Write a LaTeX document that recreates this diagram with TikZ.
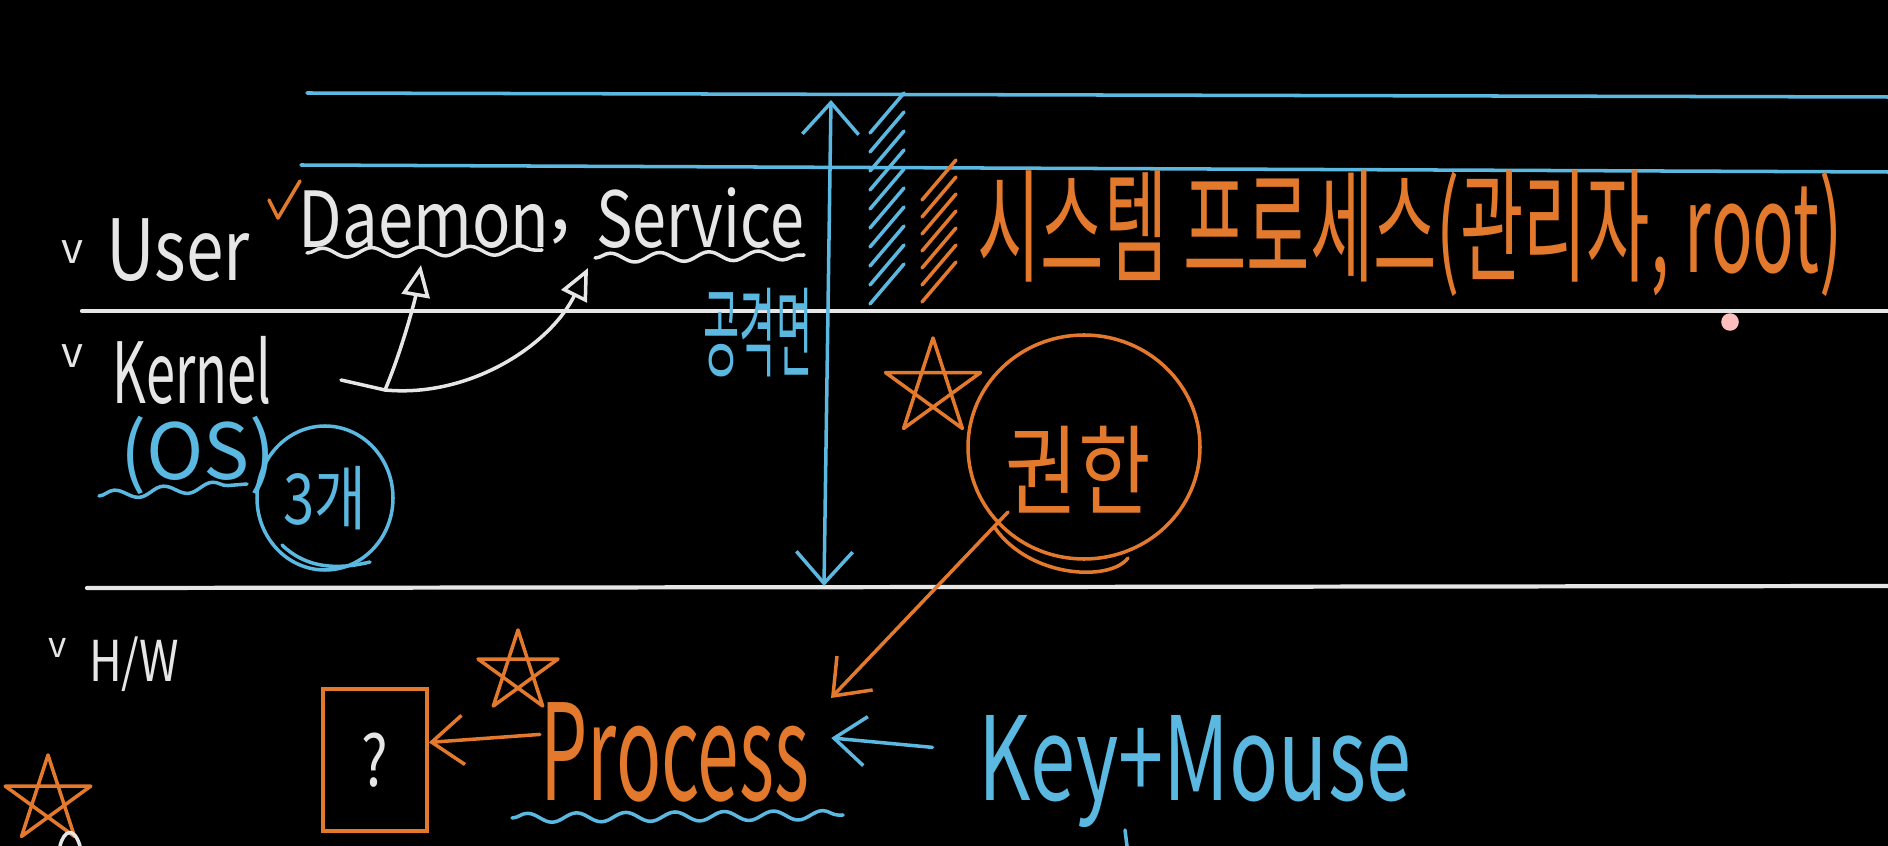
\documentclass[tikz,border=0pt]{standalone}
\usepackage{fontspec}
\setmainfont{Noto Sans CJK KR}
\usetikzlibrary{arrows.meta,decorations.pathmorphing}
\definecolor{chalkblue}{HTML}{5BB8E0}
\definecolor{chalkorange}{HTML}{E2792C}
\definecolor{chalkwhite}{HTML}{E6E6E6}
\newcommand{\hand}[3]{\scalebox{#2}[1]{\fontsize{#1}{#1}\selectfont #3}}
\newcommand{\pentastar}[3]{\draw[#1] (#2) +(-90:#3) -- +(54:#3) -- +(198:#3) -- +(342:#3) -- +(126:#3) -- cycle;}
\tikzset{
  wpen/.style={draw=chalkwhite,line width=1pt,line cap=round,line join=round},
  bpen/.style={draw=chalkblue,line width=1pt,line cap=round,line join=round},
  open/.style={draw=chalkorange,line width=1pt,line cap=round,line join=round},
  barb/.style={-{Straight Barb[length=9pt,width=14pt]}},
  wavy/.style={decorate,decoration={snake,amplitude=1.3pt,segment length=14pt}},
}
\begin{document}
\begin{tikzpicture}[x=0.01cm,y=-0.01cm,every node/.style={inner sep=0pt}]
\fill[black] (0,0) rectangle (1888,846);
\useasboundingbox (0,0) rectangle (1888,846);
% layer lines
\draw[bpen] (307,93) -- (1888,97);
\draw[bpen] (301,165) -- (1888,172);
\draw[wpen,line width=1.2pt] (82,311) -- (1888,311);
\draw[wpen,line width=1.2pt] (87,588) -- (1888,586);
% user / kernel / hw
\node[text=chalkwhite] (tick1) at (72,252) {\hand{12}{1}{v}};
\node[text=chalkwhite] (user) at (178,250) {\hand{24}{0.8}{User}};
\draw[open] (269,200) -- (278,218) -- (300,181);
\node[text=chalkwhite] (daemon) at (424,220) {\hand{22}{0.82}{Daemon}};
\node[text=chalkwhite] (comma) at (560,232) {\hand{22}{1}{,}};
\node[text=chalkwhite] (service) at (700,218) {\hand{22}{0.79}{Service}};
\draw[wpen,wavy] (307,253) -- (542,250);
\draw[wpen,wavy] (595,258) -- (804,255);
\node[text=chalkblue] (attack) at (758,333) {\hand{28}{0.4}{공격면}};
\node[text=chalkwhite] (tick2) at (72,356) {\hand{12}{1}{v}};
\node[text=chalkwhite] (kernel) at (192,370) {\hand{24}{0.62}{Kernel}};
\coordinate (kstart) at (341,380);
\coordinate (kjoin) at (385,390);
\coordinate (dtip) at (421,265);
\coordinate (stip) at (588,268);
\draw[wpen,-{Triangle[open,length=9pt,width=8pt]}] (kstart) -- (kjoin) .. controls (402,350) and (415,300) .. (dtip);
\draw[wpen,-{Triangle[open,length=9pt,width=8pt]}] (kjoin) .. controls (470,398) and (550,345) .. (stip);
\node[text=chalkblue] (os) at (198,455) {\hand{22}{1}{(OS)}};
\draw[bpen,wavy] (99,496) -- (247,484);
\node[text=chalkblue] (cnt) at (325,498) {\hand{20}{0.8}{3개}};
\draw[bpen] (cnt) ellipse [x radius=68, y radius=72];
\draw[bpen] (282,545) .. controls (310,572) and (345,568) .. (370,562);
\node[text=chalkwhite] (tick3) at (58,648) {\hand{10}{1}{v}};
\node[text=chalkwhite] (hw) at (134,664) {\hand{16}{0.8}{H/W}};
% user-kernel boundary arrow and hatching
\coordinate (vtop) at (831,100);
\coordinate (vbot) at (824,586);
\draw[bpen,{Straight Barb[length=9pt,width=16pt]}-{Straight Barb[length=9pt,width=16pt]}] (vtop) -- (vbot);
\foreach \k in {0,...,9}
  \draw[bpen] (870,{133+\k*19}) -- ++(34,-40);
\foreach \k in {0,...,6}
  \draw[open] (922,{200+\k*17}) -- ++(34,-40);
\node[text=chalkorange] (syspro) at (1410,234) {\hand{35}{0.56}{시스템 프로세스(관리자, root)}};
\fill[pink] (1730,322) circle (2.5pt);
% privilege
\coordinate (star1) at (933,388);
\pentastar{open}{star1}{50}
\node[text=chalkorange] (priv) at (1078,470) {\hand{28}{0.8}{권한}};
\draw[open] (1084,447) ellipse [x radius=116, y radius=112];
\draw[open] (995,528) .. controls (1030,578) and (1110,582) .. (1128,558);
\coordinate (ptail) at (1008,512);
\coordinate (phead) at (831,698);
\draw[open,barb] (ptail) -- (phead);
% process row
\node[draw=chalkorange,line width=1pt,minimum width=29.6pt,minimum height=40.4pt,text=chalkwhite] (qbox) at (375,760) {\hand{20}{0.8}{?}};
\coordinate (star2) at (518,672);
\pentastar{open}{star2}{42}
\node[text=chalkorange] (process) at (675,752) {\hand{38}{0.56}{Process}};
\draw[bpen,wavy] (512,818) -- (843,815);
\draw[open,barb] ([yshift=5pt]process.west) -- ([yshift=5pt]qbox.east);
\node[text=chalkblue] (keymouse) at (1195,772) {\hand{33}{0.7}{Key+Mouse}};
\draw[bpen,barb] ([xshift=-13pt,yshift=7pt]keymouse.west) -- ([xshift=6pt,yshift=4pt]process.east);
\coordinate (star3) at (48,800);
\pentastar{open}{star3}{45}
\draw[wpen] (60,846) .. controls (64,830) and (74,826) .. (80,846);
\draw[bpen] (1125,830) -- (1127,846);
\end{tikzpicture}
\end{document}
